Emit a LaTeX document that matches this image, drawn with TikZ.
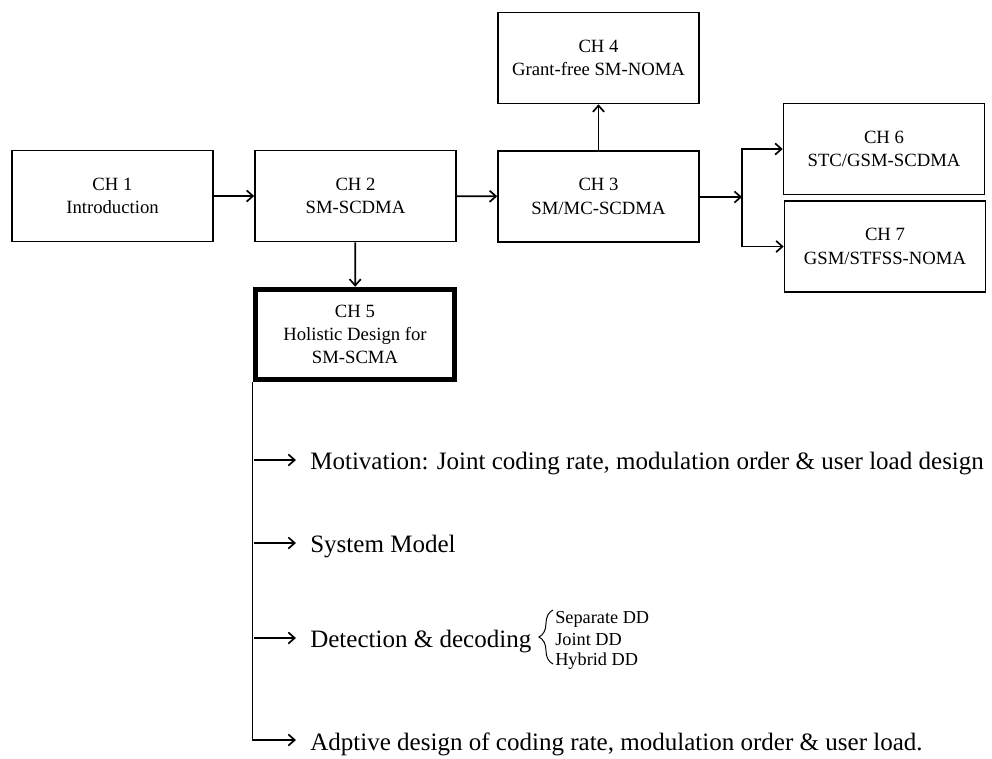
\documentclass[tikz,border=0pt]{standalone}
\usepackage{fontspec}
\setmainfont{Liberation Serif}
\usetikzlibrary{arrows.meta,decorations.pathreplacing}

\begin{document}
\begin{tikzpicture}[x=0.025cm,y=-0.025cm,
  >={Straight Barb[length=4.5pt,width=8pt]},
  chbox/.style={draw,line width=1.1pt,minimum width=5.025cm,minimum height=2.275cm,
    align=center,inner sep=0pt,font=\fontsize{13.3}{16.6}\selectfont},
  mainbox/.style={chbox,line width=3.6pt,minimum width=4.99cm,minimum height=2.26cm},
  link/.style={->,line width=1.2pt},
  item/.style={anchor=base west,inner sep=0pt,font=\fontsize{17.8}{21}\selectfont},
  subitem/.style={anchor=base west,inner sep=0pt,font=\fontsize{13}{15}\selectfont}]

\useasboundingbox (0,0) rectangle (992,758);

% chapters
\node[chbox] (ch1) at (112.5,196) {CH 1\\Introduction};
\node[chbox] (ch2) at (355.5,196) {CH 2\\SM-SCDMA};
\node[chbox] (ch3) at (598.5,196.5) {CH 3\\SM/MC-SCDMA};
\node[chbox] (ch4) at (598.5,58) {CH 4\\Grant-free SM-NOMA};
\node[chbox] (ch6) at (884,149) {CH 6\\STC/GSM-SCDMA};
\node[chbox] (ch7) at (885,246.5) {CH 7\\GSM/STFSS-NOMA};
\node[mainbox] (ch5) at (355,334.5) {CH 5\\Holistic Design for\\SM-SCMA};

\draw[link] (ch1) -- (ch2);
\draw[link] (ch2) -- (ch3);
\draw[link] (ch3) -- (ch4);
\draw[link] (ch2) -- (ch5);

% split after chapter 3
\coordinate (br) at (742,197);
\draw[link] (ch3.east |- br) -- (br);
\draw[link] (br) |- (ch6);
\draw[link] (br) |- (ch7);

% contents of chapter 5
\node[item] (m1) at (310,469) {Motivation: Joint coding rate, modulation order \& user load design};
\node[item] (m2) at (310,552) {System Model};
\node[item] (m3) at (310,647) {Detection \& decoding};
\node[item] (m4) at (310,750) {Adptive design of coding rate, modulation order \& user load.};

\coordinate (s1) at (254,460);
\coordinate (s2) at (254,543);
\coordinate (s3) at (254,638);
\coordinate (s4) at (254,740);

\draw[link,shorten >=10pt] (ch5.south west) |- (s4 -| m4.west);
\draw[link,shorten >=10pt] (s1) -- (s1 -| m1.west);
\draw[link,shorten >=10pt] (s2) -- (s2 -| m2.west);
\draw[link,shorten >=10pt] (s3) -- (s3 -| m3.west);

% kinds of detection
\draw[line width=0.7pt,decorate,decoration={brace,amplitude=10pt}] (553,664) -- (553,610);
\node[subitem] (d1) at (555,623) {Separate DD};
\node[subitem] (d2) at (555,645) {Joint DD};
\node[subitem] (d3) at (555,665) {Hybrid DD};
\end{tikzpicture}
\end{document}
